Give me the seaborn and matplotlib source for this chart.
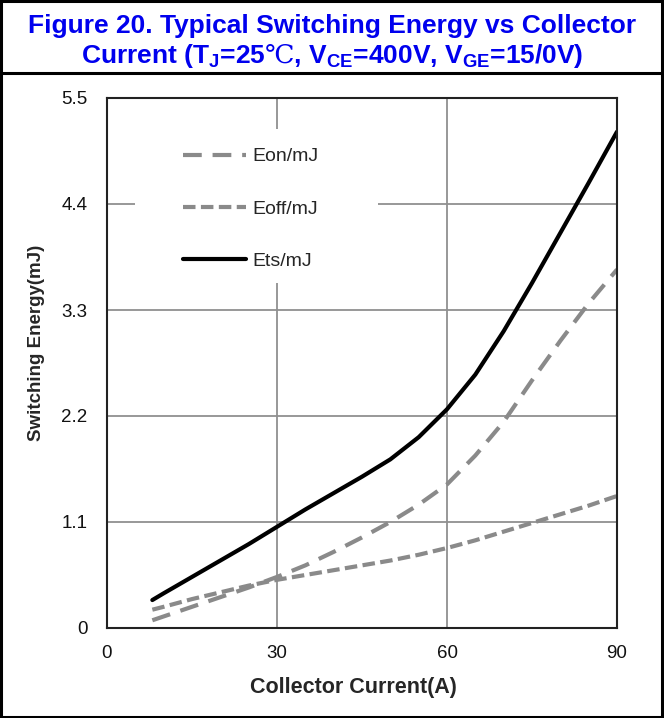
import numpy as np
import pandas as pd
import seaborn as sns
import matplotlib.pyplot as plt
from matplotlib.patches import Rectangle
from matplotlib.lines import Line2D

# collector current (A)
current = [8, 10, 15, 20, 25, 30, 35, 40, 45, 50, 55, 60, 65, 70, 75, 80, 85, 90]
# switching energies (mJ)
eon = [0.08, 0.12, 0.22, 0.32, 0.42, 0.53, 0.65, 0.79, 0.94, 1.10, 1.28, 1.49,
       1.79, 2.14, 2.57, 2.98, 3.37, 3.72]
eoff = [0.19, 0.22, 0.30, 0.37, 0.44, 0.50, 0.55, 0.60, 0.65, 0.70, 0.76, 0.83,
        0.91, 1.00, 1.09, 1.18, 1.27, 1.37]
ets = [0.29, 0.36, 0.53, 0.70, 0.87, 1.05, 1.23, 1.40, 1.57, 1.75, 1.98, 2.27,
       2.63, 3.08, 3.58, 4.10, 4.62, 5.15]

x_ticks = [0, 30, 60, 90]
y_ticks = [0, 1.1, 2.2, 3.3, 4.4, 5.5]
y_ticklabels = ["0", "1.1", "2.2", "3.3", "4.4", "5.5"]

sns.set_theme(style="whitegrid")
plt.rcParams['font.family'] = ['Liberation Sans', 'DejaVu Sans']
plt.rcParams['mathtext.fontset'] = 'custom'
plt.rcParams['mathtext.rm'] = 'Liberation Sans:bold'
plt.rcParams['mathtext.it'] = 'Liberation Sans:bold'
plt.rcParams['mathtext.bf'] = 'Liberation Sans:bold'
plt.rcParams['mathtext.sf'] = 'DejaVu Serif'
plt.rcParams['mathtext.fallback'] = 'stix'

fig = plt.figure(figsize=(6.64, 7.18), dpi=100)
ax = fig.add_axes([107/664, 1 - 628/718, 510/664, 530/718])

gray = "#8a8a8a"
sns.lineplot(x=current, y=eon, ax=ax, color=gray, lw=3, label="Eon/mJ",
             linestyle=(0, (4.5, 2.6)))
sns.lineplot(x=current, y=eoff, ax=ax, color=gray, lw=3, label="Eoff/mJ",
             linestyle=(0, (3.0, 1.3)))
sns.lineplot(x=current, y=ets, ax=ax, color="black", lw=3, label="Ets/mJ")

ax.set_xlim(0, 90)
ax.set_ylim(0, 5.5)
ax.set_xticks(x_ticks)
ax.set_yticks(y_ticks)
ax.set_yticklabels(y_ticklabels)
ax.set_facecolor("white")
ax.grid(True, color="#909090", lw=1.3)
ax.tick_params(length=0, labelsize=13.5, colors="#111111")
ax.tick_params(axis="y", pad=14)
ax.tick_params(axis="x", pad=12)
for s in ax.spines.values():
    s.set_color("#222222")
    s.set_linewidth(1.5)

ax.set_xlabel("Collector Current(A)", fontsize=15.5, fontweight="bold")
ax.set_ylabel("Switching Energy(mJ)", fontsize=13.5, fontweight="bold")
ax.xaxis.set_label_coords(0.484, -0.092)
ax.yaxis.set_label_coords(-0.121, 0.538)

# white patch behind the legend, hiding the grid there
ax.add_patch(Rectangle((0.055, 0.651), 0.476, 0.29, transform=ax.transAxes,
                       fc="white", ec="none", zorder=1))
ax.legend(loc="upper left", bbox_to_anchor=(0.149, 0.906), frameon=False,
          fontsize=14, handlelength=3.25, handletextpad=0.3, labelspacing=1.78,
          borderpad=0, borderaxespad=0)

# title band and outer frame
fig.add_artist(Rectangle((0.002, 0.002), 0.995, 0.996, transform=fig.transFigure,
                         fill=False, ec="black", lw=2.2))
fig.add_artist(Line2D([0, 1], [1 - 73/718, 1 - 73/718], transform=fig.transFigure,
                      color="black", lw=2.2))
blue = "#0000ee"
fig.text(0.5, 1 - 26/718, "Figure 20. Typical Switching Energy vs Collector",
         ha="center", va="center", fontsize=19, fontweight="bold", color=blue)
fig.text(0.5, 1 - 56/718,
         "Current (T$_J$=25$\\mathsf{\u2103}$, V$_{CE}$=400V, V$_{GE}$=15/0V)",
         ha="center", va="center", fontsize=19, fontweight="bold", color=blue)

fig.savefig("out.png", dpi=100)
